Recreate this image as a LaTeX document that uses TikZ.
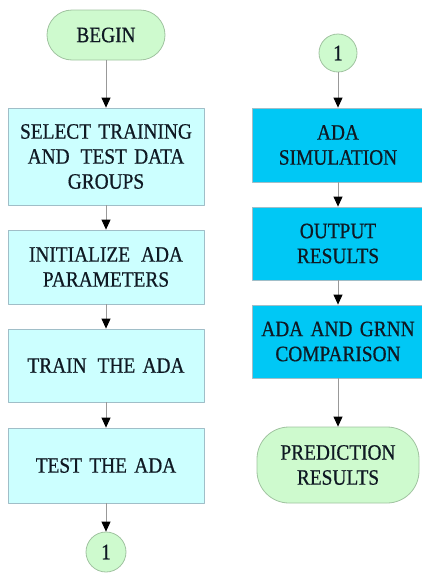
\documentclass[tikz,border=0pt]{standalone}
\usepackage{fontspec}
\setmainfont{Liberation Serif}[FakeStretch=0.88,FakeBold=0.6]
\usetikzlibrary{arrows.meta}
\definecolor{lightbox}{RGB}{204,255,255}
\definecolor{lightedge}{RGB}{160,190,200}
\definecolor{darkbox}{RGB}{0,200,245}
\definecolor{termfill}{RGB}{206,250,206}
\definecolor{termedge}{RGB}{160,195,160}
\definecolor{txt}{RGB}{15,25,35}
\tikzset{
	procbox/.style={draw=lightedge, fill=lightbox, line width=0.8pt, minimum width=196pt, text width=190pt, align=center, inner sep=0pt},
	simbox/.style={draw=lightedge, fill=darkbox, line width=0.8pt, minimum width=171pt, text width=165pt, align=center, inner sep=0pt},
	terminal/.style={draw=termedge, fill=termfill, line width=0.8pt, rounded corners=25pt, align=center, inner sep=0pt},
	connector/.style={circle, draw=termedge, fill=termfill, line width=0.8pt, inner sep=0pt},
	flow/.style={draw=gray!80, line width=0.8pt, -{Triangle[length=10pt,width=9pt,color=black]}}
}
\begin{document}
\begin{tikzpicture}[x=1pt, y=-1pt, font=\fontsize{22}{25}\selectfont, text=txt, line join=round]
	\useasboundingbox (0,0) rectangle (422,573);
	% left column
	\node[terminal, minimum width=118pt, minimum height=50pt] (begin) at (106,35) {BEGIN};
	\node[procbox, minimum height=97pt] (select) at (106,156.5) {SELECT TRAINING\\AND\, TEST DATA\\GROUPS};
	\node[procbox, minimum height=74pt] (init) at (106,267) {INITIALIZE\, ADA\\PARAMETERS};
	\node[procbox, minimum height=73pt] (train) at (106,365.5) {TRAIN\, THE ADA};
	\node[procbox, minimum height=75pt] (test) at (106,465.5) {TEST THE ADA};
	\node[connector, minimum size=40pt] (out1) at (106,552) {1};
	% right column
	\node[connector, minimum size=38pt] (in1) at (338,53) {1};
	\node[simbox, minimum height=74pt] (sim) at (338,145) {ADA\\SIMULATION};
	\node[simbox, minimum height=73pt] (output) at (338,243.5) {OUTPUT\\RESULTS};
	\node[simbox, minimum height=73pt] (compare) at (338,341.5) {ADA AND GRNN\\COMPARISON};
	\node[terminal, rounded corners=32pt, minimum width=162pt, minimum height=76pt] (predict) at (338,465) {PREDICTION\\RESULTS};
	% arrows
	\draw[flow] (begin) -- (select);
	\draw[flow] (select) -- (init);
	\draw[flow] (init) -- (train);
	\draw[flow] (train) -- (test);
	\draw[flow] (test) -- (out1);
	\draw[flow] (in1) -- (sim);
	\draw[flow] (sim) -- (output);
	\draw[flow] (output) -- (compare);
	\draw[flow] (compare) -- (predict);
\end{tikzpicture}
\end{document}
